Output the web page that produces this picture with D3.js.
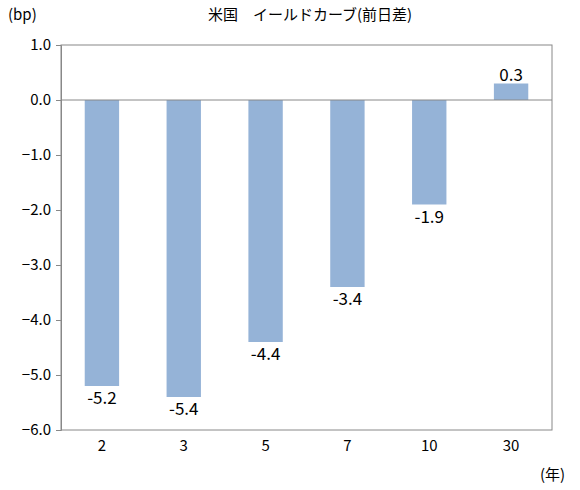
<!DOCTYPE html>
<html><head><meta charset="utf-8">
<script src="https://cdn.jsdelivr.net/npm/d3@7"></script>
<style>body{margin:0;background:#fff}text{font-family:"Noto Sans CJK JP",sans-serif;fill:#000}</style>
</head><body><svg id="c" width="580" height="490"></svg>
<script>
const categories=["2","3","5","7","10","30"];
const values=[-5.2,-5.4,-4.4,-3.4,-1.9,0.3];
const yTicks=[1,0,-1,-2,-3,-4,-5,-6];
const svg=d3.select("#c");
const L=61,R=552,T=45,B=430;
const x=d3.scaleBand().domain(categories).range([L,R]).paddingInner(0.58).paddingOuter(0.29);
const y=d3.scaleLinear().domain([-6,1]).range([B,T]);
svg.append("rect").attr("x",L).attr("y",T).attr("width",R-L).attr("height",B-T).attr("fill","none").attr("stroke","#888");
svg.selectAll(".b").data(values).join("rect").attr("x",(d,i)=>x(categories[i])).attr("width",x.bandwidth())
 .attr("y",d=>y(Math.max(0,d))).attr("height",d=>Math.abs(y(d)-y(0))).attr("fill","#95B3D7");
svg.append("line").attr("x1",L).attr("x2",R).attr("y1",y(0)).attr("y2",y(0)).attr("stroke","#888");
const ya=d3.axisLeft(y).tickValues(yTicks).tickFormat(d3.format(".1f")).tickSize(5);
const g=svg.append("g").attr("transform",`translate(${L},0)`).call(ya);
g.select(".domain").attr("stroke","#888");g.selectAll("line").attr("stroke","#888");
g.selectAll("text").attr("font-size",15).attr("x",-10);
const xa=d3.axisBottom(x).tickSize(0);
const gx=svg.append("g").attr("transform",`translate(0,${B})`).call(xa);
gx.select(".domain").remove();gx.selectAll("text").attr("font-size",15).attr("dy","1.2em");
svg.selectAll(".l").data(values).join("text").attr("x",(d,i)=>x(categories[i])+x.bandwidth()/2)
 .attr("y",d=>d<0?y(d)+18:y(d)-3).attr("text-anchor","middle").attr("font-size",17).text(d=>d.toFixed(1));
svg.append("text").attr("x",310).attr("y",20).attr("text-anchor","middle").attr("font-size",15).text("米国　イールドカーブ(前日差)");
svg.append("text").attr("x",8).attr("y",20).attr("font-size",15).text("(bp)");
svg.append("text").attr("x",540).attr("y",480).attr("font-size",15).text("(年)");
</script></body></html>
